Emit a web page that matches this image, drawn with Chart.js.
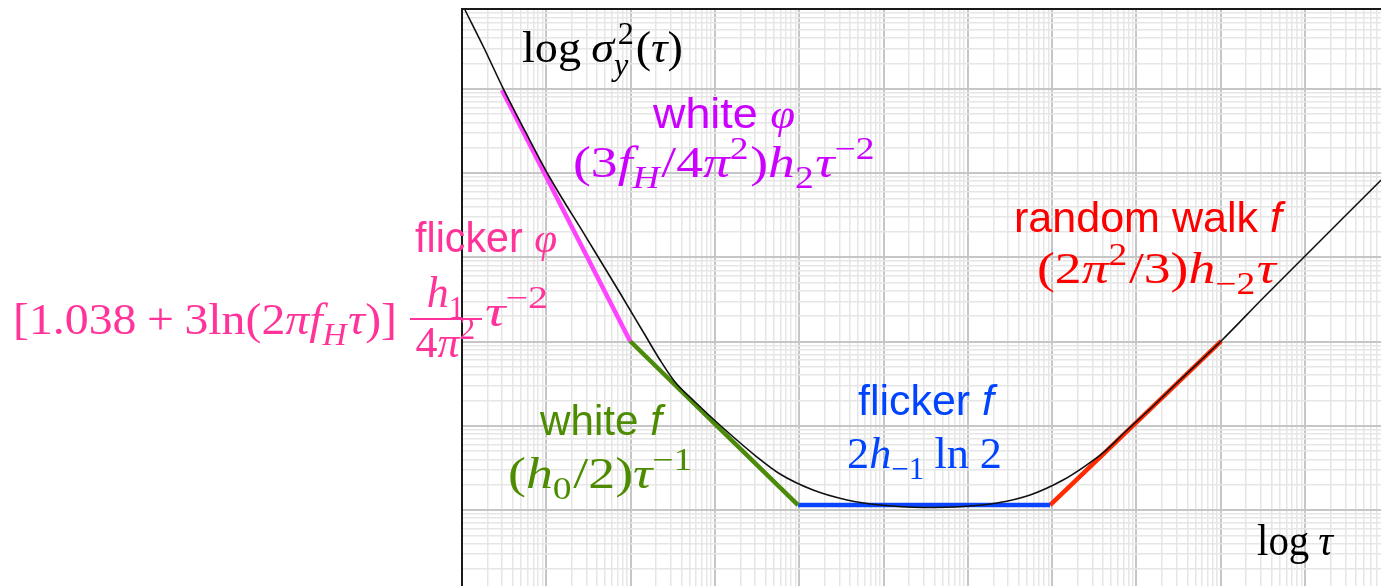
<!DOCTYPE html>
<html>
<head>
<meta charset="utf-8">
<script src="https://cdn.jsdelivr.net/npm/chart.js@4.4.1/dist/chart.umd.min.js"></script>
<style>
  html, body { margin: 0; padding: 0; background: #fff; overflow: hidden; }
  #wrap { position: relative; width: 1381px; height: 586px; }
</style>
</head>
<body>
<div id="wrap"><canvas id="c" width="1381" height="586"></canvas></div>
<script>
// Allan variance vs averaging time, both axes in decades (log10 units)

// Total Allan variance curve
const logTau = [0.036, 0.261, 0.486, 0.747, 1.044, 1.471, 1.874, 2.171, 2.349, 2.527, 2.764, 3.084, 3.499, 3.772, 4.164, 4.567, 4.958, 5.469, 5.943, 6.346, 6.738, 7.129, 7.390, 7.628, 7.865, 8.161, 8.517, 9.004, 9.502, 10.902];
const logSigma2 = [5.935, 5.484, 5.009, 4.499, 3.941, 3.240, 2.576, 2.077, 1.780, 1.519, 1.282, 0.985, 0.629, 0.427, 0.237, 0.119, 0.059, 0.030, 0.042, 0.083, 0.178, 0.356, 0.522, 0.700, 0.926, 1.199, 1.543, 2.006, 2.516, 3.917];

// Asymptotes of the individual noise types
const whitePhiTau = [0.474, 1.993];
const whitePhiSigma2 = [4.985, 2.006];
const whiteFTau = [1.993, 3.986];
const whiteFSigma2 = [2.006, 0.059];
const flickerFTau = [3.986, 6.975];
const flickerFSigma2 = [0.059, 0.059];
const randomWalkFTau = [6.975, 9.004];
const randomWalkFSigma2 = [0.059, 2.006];

// Visible window of the log-log paper
const tauRange = [0, 10.9];
const sigmaRange = [-0.902, 5.947];
const minorSteps = [2, 3, 4, 5, 6, 7, 8, 9];

const toPoints = (xs, ys) => xs.map((x, i) => ({ x, y: ys[i] }));

function decadeTicks(min, max) {
  const t = [];
  for (let k = Math.floor(min) - 1; k <= Math.ceil(max); k++) {
    if (k >= min - 1e-9 && k <= max + 1e-9) t.push({ value: k });
    for (const m of minorSteps) {
      const v = k + Math.log10(m);
      if (v >= min && v <= max) t.push({ value: v });
    }
  }
  return t.sort((a, b) => a.value - b.value);
}
const isMajor = v => Math.abs(v - Math.round(v)) < 1e-6;

const gridOpts = {
  drawTicks: false,
  color: c => isMajor(c.tick.value) ? '#c6c6c6' : '#e6e6e6',
  lineWidth: c => isMajor(c.tick.value) ? 2 : 1.5
};

// ---- text annotations ----
const SERIF = '"Liberation Serif", "Times New Roman", serif';
const SANS = '"Liberation Sans", Arial, sans-serif';
const PURPLE = '#cc00ff', PINK = '#ff3399', GREEN = '#4d8c00', BLUE = '#0044ff', RED = '#ff0000';

const labels = [
  { runs: [{ t: 'log' }, { gap: 0.22 }, { t: 'σ', i: 1 }, { stack: [{ t: 'y', i: 1 }, { t: '2' }] }, { t: '(' }, { t: 'τ', i: 1 }, { t: ')' }],
    x: 522, y: 62, right: 683, size: 44, color: '#000' },
  { runs: [{ t: 'white ', s: 1 }, { t: 'φ', i: 1 }], x: 653, y: 128, right: 795, size: 42, color: PURPLE },
  { runs: [{ t: '(3' }, { t: 'f', i: 1 }, { t: 'H', i: 1, sub: 1 }, { t: '/4' }, { t: 'π', i: 1 }, { t: '2', sup: 1 }, { t: ')' }, { t: 'h', i: 1 }, { t: '2', sub: 1 }, { t: 'τ', i: 1 }, { t: '−2', sup: 1 }],
    x: 573, y: 177, right: 876, size: 44, color: PURPLE },
  { runs: [{ t: 'flicker ', s: 1 }, { t: 'φ', i: 1 }], x: 415, y: 252, right: 557, size: 42, color: PINK },
  { runs: [{ t: '[1.038' }, { gap: 0.22 }, { t: '+' }, { gap: 0.22 }, { t: '3ln(2' }, { t: 'π', i: 1 }, { t: 'f', i: 1 }, { t: 'H', i: 1, sub: 1 }, { t: 'τ', i: 1 }, { t: ')]' }],
    x: 13, y: 334, right: 397, size: 44, color: PINK },
  { runs: [{ t: 'h', i: 1 }, { t: '1', sub: 1 }], cx: 446, y: 307, size: 44, color: PINK },
  { runs: [{ t: '4' }, { t: 'π', i: 1 }, { t: '2', sup: 1 }], cx: 446, y: 357, size: 44, color: PINK },
  { runs: [{ t: 'τ', i: 1 }, { t: '−2', sup: 1 }], x: 485, y: 326, right: 552, size: 44, color: PINK },
  { runs: [{ t: 'white ', s: 1 }, { t: 'f', s: 1, i: 1 }], x: 540, y: 435, right: 662, size: 42, color: GREEN },
  { runs: [{ t: '(' }, { t: 'h', i: 1 }, { t: '0', sub: 1 }, { t: '/2)' }, { t: 'τ', i: 1 }, { t: '−1', sup: 1 }], x: 508, y: 488, right: 694, size: 44, color: GREEN },
  { runs: [{ t: 'flicker ', s: 1 }, { t: 'f', s: 1, i: 1 }], x: 858, y: 415, right: 994, size: 42, color: BLUE },
  { runs: [{ t: '2' }, { t: 'h', i: 1 }, { t: '−1', sub: 1 }, { gap: 0.2 }, { t: 'ln 2' }], x: 847, y: 468, right: 1002, size: 44, color: BLUE },
  { runs: [{ t: 'random walk ', s: 1 }, { t: 'f', s: 1, i: 1 }], x: 1014, y: 232, right: 1282, size: 42, color: RED },
  { runs: [{ t: '(2' }, { t: 'π', i: 1 }, { t: '2', sup: 1 }, { t: '/3)' }, { t: 'h', i: 1 }, { t: '−2', sub: 1 }, { t: 'τ', i: 1 }], x: 1037, y: 283, right: 1276, size: 44, color: RED },
  { runs: [{ t: 'log' }, { gap: 0.22 }, { t: 'τ', i: 1 }], x: 1257, y: 555, right: 1333, size: 44, color: '#000' }
];
// fraction bar of the flicker-phase term
const fractionBar = { x1: 410, x2: 482, y: 319, color: PINK };

function fontFor(r, size) {
  return (r.i ? 'italic ' : '') + size.toFixed(1) + 'px ' + (r.s ? SANS : SERIF);
}
function buildOps(ctx, runs, size) {
  const ops = []; let x = 0;
  const place = (r, sz, dy) => { const font = fontFor(r, sz); ctx.font = font; return { t: r.t, font, dy, w: ctx.measureText(r.t).width }; };
  for (const r of runs) {
    if (r.gap !== undefined) { x += r.gap * size; continue; }
    if (r.stack) {
      const a = place(r.stack[0], size * 0.7, size * 0.3);
      const b = place(r.stack[1], size * 0.7, -size * 0.42);
      a.x = x; b.x = x + size * 0.08;
      ops.push(a, b);
      x += Math.max(a.w, b.w + size * 0.08) + size * 0.04;
      continue;
    }
    const small = r.sub || r.sup;
    const o = place(r, small ? size * 0.7 : size, r.sub ? size * 0.26 : r.sup ? -size * 0.42 : 0);
    o.x = x; ops.push(o); x += o.w + (small ? size * 0.03 : 0);
  }
  return { ops, width: x };
}

const annotations = {
  id: 'annotations',
  afterDatasetsDraw(chart) {
    const ctx = chart.ctx, a = chart.chartArea;
    ctx.save();
    // top frame line of the paper
    ctx.strokeStyle = '#1a1a1a'; ctx.lineWidth = 2;
    ctx.beginPath(); ctx.moveTo(a.left - 1, a.top); ctx.lineTo(a.right, a.top); ctx.stroke();
    ctx.textBaseline = 'alphabetic';
    for (const L of labels) {
      const { ops, width } = buildOps(ctx, L.runs, L.size);
      let left = L.cx !== undefined ? L.cx - width / 2 : L.x;
      let sx = 1;
      if (L.right !== undefined) sx = Math.min(1.3, Math.max(0.75, (L.right - L.x) / width));
      ctx.save();
      ctx.translate(left, L.y);
      ctx.scale(sx, 1);
      ctx.fillStyle = L.color;
      for (const o of ops) { ctx.font = o.font; ctx.fillText(o.t, o.x, o.dy); }
      ctx.restore();
    }
    ctx.strokeStyle = fractionBar.color; ctx.lineWidth = 2;
    ctx.beginPath(); ctx.moveTo(fractionBar.x1, fractionBar.y); ctx.lineTo(fractionBar.x2, fractionBar.y); ctx.stroke();
    ctx.restore();
  }
};

const segment = (label, xs, ys, color) => ({
  label, data: toPoints(xs, ys), borderColor: color, borderWidth: 4.5,
  pointRadius: 0, tension: 0, borderCapStyle: 'butt'
});

new Chart(document.getElementById('c'), {
  type: 'line',
  data: {
    datasets: [
      { label: 'σ²(τ)', data: toPoints(logTau, logSigma2), borderColor: '#111', borderWidth: 1.6,
        pointRadius: 0, cubicInterpolationMode: 'monotone' },
      segment('white φ', whitePhiTau, whitePhiSigma2, '#ff44ff'),
      segment('white f', whiteFTau, whiteFSigma2, '#4b8a0a'),
      segment('flicker f', flickerFTau, flickerFSigma2, '#0a44ff'),
      segment('random walk f', randomWalkFTau, randomWalkFSigma2, '#ff2a00')
    ]
  },
  options: {
    responsive: false,
    devicePixelRatio: 1,
    animation: false,
    layout: { padding: { left: 462, top: 9, right: 0, bottom: 0 } },
    plugins: { legend: { display: false }, tooltip: { enabled: false } },
    scales: {
      x: {
        type: 'linear', min: tauRange[0], max: tauRange[1],
        afterBuildTicks: s => { s.ticks = decadeTicks(tauRange[0], tauRange[1]); },
        ticks: { display: false, autoSkip: false },
        grid: gridOpts,
        border: { display: false }
      },
      y: {
        type: 'linear', min: sigmaRange[0], max: sigmaRange[1],
        afterBuildTicks: s => { s.ticks = decadeTicks(sigmaRange[0], sigmaRange[1]); },
        ticks: { display: false, autoSkip: false },
        grid: gridOpts,
        border: { display: true, color: '#1a1a1a', width: 2 }
      }
    }
  },
  plugins: [annotations]
});
</script>
</body>
</html>
